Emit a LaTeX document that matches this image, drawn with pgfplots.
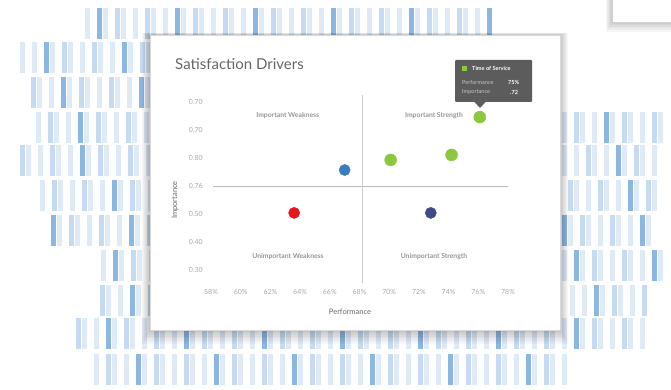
\documentclass[border=0pt]{standalone}
\usepackage{pgfplots}
\pgfplotsset{compat=1.18}
\usepackage{fontspec}
\setmainfont{Lato}
\definecolor{barL}{RGB}{223,234,247}
\definecolor{barM}{RGB}{198,219,241}
\definecolor{barD}{RGB}{140,183,226}
\definecolor{ptgreen}{RGB}{141,198,63}
\definecolor{ptblue}{RGB}{58,124,192}
\definecolor{ptred}{RGB}{232,20,27}
\definecolor{ptnavy}{RGB}{64,74,138}
\definecolor{tipbg}{RGB}{92,92,92}
\definecolor{ticktxt}{RGB}{170,170,170}
\definecolor{quadtxt}{RGB}{150,150,150}
\begin{document}
\begin{tikzpicture}[x=1pt,y=1pt]
\useasboundingbox (0,0) rectangle (671,390);
% decorative background bars
\begin{scope}
\clip (0,0) rectangle (671,390);
\foreach \r/\ya/\xa/\n in {1/8/85/67, 2/42/20/22, 3/77/25/21, 4/112/30/20, 5/145/20/22, 6/180/40/19, 7/215/45/18, 8/250/95/9, 9/285/100/8,
  10/112/562/16, 11/145/562/16, 12/180/562/16, 13/215/562/15, 14/250/562/16, 15/285/570/12, 16/318/70/96, 17/354/88/79} {
  \foreach \i in {0,...,\n} {
    \pgfmathtruncatemacro{\k}{mod(\i*5+\r*3,13)}
    \ifnum\k<8
      \pgfmathsetmacro{\xx}{\xa+6*\i}
      \ifnum\k=0 \def\cc{barD}\else\ifnum\k<3 \def\cc{barM}\else\def\cc{barL}\fi\fi
      \fill[\cc] (\xx,390-\ya) rectangle ++(4.5,-31);
    \fi
  }
}
\end{scope}
% top right card
\foreach \o in {1,...,6} {\fill[black,opacity=0.035] (612-\o,390+5) rectangle (680,390-22-\o*1.6);}
\fill[white] (612,395) rectangle (680,368);
\draw[gray!35] (612,395) -- (612,368) -- (680,368);
% card shadow
\foreach \o in {1,...,8} {\fill[black,opacity=0.03] (150-\o,390-35+\o*0.3) rectangle (560+\o,390-330-\o*1.7);}
\fill[white] (150,355) rectangle (560,60);
\draw[gray!30] (150,355) rectangle (560,60);
% title
\node[anchor=base west, inner sep=0pt, text=black!60, font=\fontsize{15}{16}\selectfont] at (175,320) {Satisfaction Drivers};
% axis
\begin{axis}[at={(211pt,107pt)}, anchor=south west, scale only axis,
  width=297pt, height=188pt, clip=false,
  xmin=58, xmax=78, ymin=0.2536, ymax=0.925,
  axis line style={draw=none}, major tick length=0pt, tick style={draw=none},
  xtick={58,60,...,78},
  xticklabels={58\%,60\%,62\%,64\%,66\%,68\%,70\%,72\%,74\%,76\%,78\%},
  ytick={0.3,0.4,0.5,0.6,0.7,0.8,0.9},
  yticklabels={0.30,0.40,0.50,0.76,0.80,0.70,0.70},
  ticklabel style={font=\fontsize{7}{8}\selectfont, text=ticktxt},
  xticklabel style={inner sep=0pt, yshift=-6pt},
  yticklabel style={inner sep=0pt, xshift=-8pt},
]
\addplot[gray!55, line width=0.6pt] coordinates {(58.15,0.6) (78,0.6)};
\addplot[gray!40, line width=0.6pt] coordinates {(68.2,0.2536) (68.2,0.925)};
\addplot[only marks, mark=*, mark size=6pt, color=ptgreen] coordinates {(76.1,0.846) (70.1,0.693) (74.2,0.711)};
\addplot[only marks, mark=*, mark size=5.6pt, color=ptblue] coordinates {(67.0,0.657)};
\addplot[only marks, mark=*, mark size=5.6pt, color=ptred] coordinates {(63.6,0.504)};
\addplot[only marks, mark=*, mark size=5.6pt, color=ptnavy] coordinates {(72.8,0.504)};
\end{axis}
% quadrant labels
\begin{scope}[every node/.style={inner sep=0pt, text=quadtxt, font=\bfseries\fontsize{6.8}{8}\selectfont}]
\node at (287.7,274.3) {Important Weakness};
\node at (434,274.3) {Important Strength};
\node at (288,133.3) {Unimportant Weakness};
\node at (434,133.3) {Unimportant Strength};
\end{scope}
% axis titles
\node[rotate=90, inner sep=0pt, text=black!60, font=\fontsize{7.5}{8}\selectfont] at (175,190) {Importance};
\node[inner sep=0pt, text=black!60, font=\fontsize{7.5}{8}\selectfont] at (350,78) {Performance};
% tooltip
\fill[tipbg, rounded corners=1pt] (455,330) rectangle (532,288);
\fill[tipbg] (474,288.5) -- (486,288.5) -- (480,282) -- cycle;
\fill[ptgreen] (461.5,324) rectangle (467,318.5);
\node[anchor=west, inner sep=0pt, text=white, font=\bfseries\fontsize{5.6}{6}\selectfont] at (472,321.3) {Time of Service};
\node[anchor=west, inner sep=0pt, text=white!65!tipbg, font=\fontsize{5.6}{6}\selectfont] at (462,308) {Performance};
\node[anchor=west, inner sep=0pt, text=white, font=\bfseries\fontsize{5.6}{6}\selectfont] at (508,308) {75\%};
\node[anchor=west, inner sep=0pt, text=white!65!tipbg, font=\fontsize{5.6}{6}\selectfont] at (462,298) {Importance};
\node[anchor=west, inner sep=0pt, text=white, font=\bfseries\fontsize{5.6}{6}\selectfont] at (510,298) {.72};
\end{tikzpicture}
\end{document}
